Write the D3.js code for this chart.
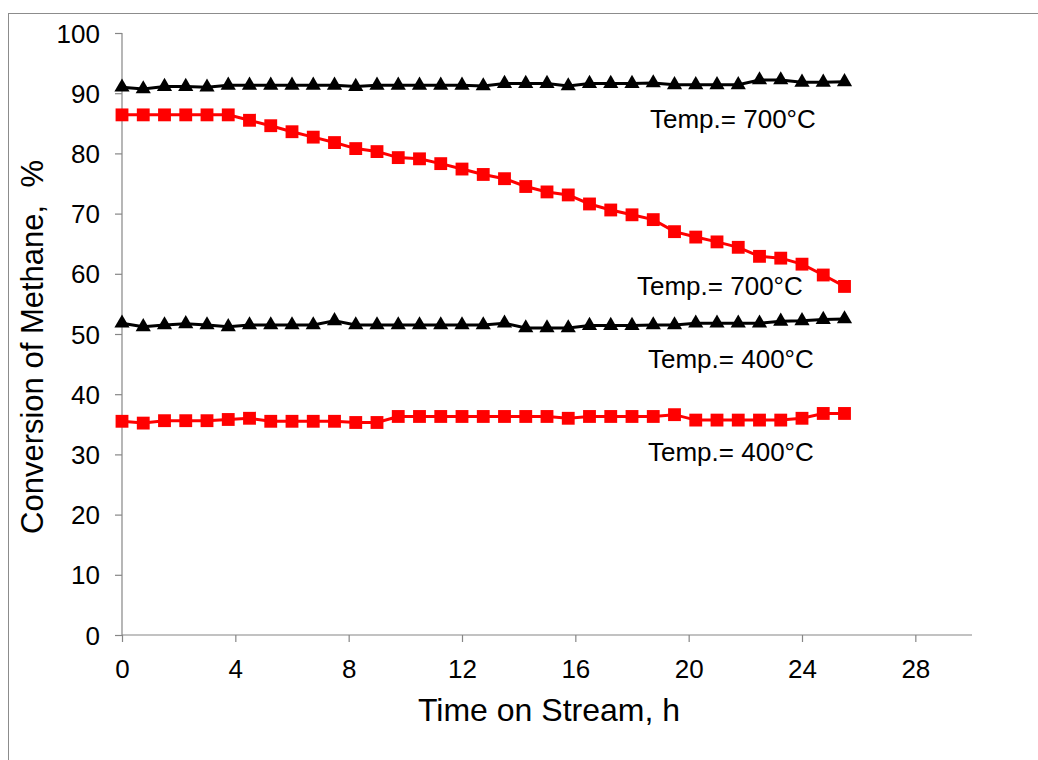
<!DOCTYPE html>
<html>
<head>
<meta charset="utf-8">
<script src="https://cdn.jsdelivr.net/npm/d3@7"></script>
<style>
    body { margin: 0; background: #fff; }
    text { font-family: "Liberation Sans", Arial, sans-serif; fill: #000; }
    .axis path, .axis line { stroke: #868686; stroke-width: 1.2; }
</style>
</head>
<body>
<svg id="chart" width="1038" height="760"></svg>
<script>
// time on stream, h (same sampling for every run)
const hours = [0, 0.75, 1.5, 2.25, 3, 3.75, 4.5, 5.25, 6, 6.75, 7.5, 8.25, 9, 9.75,
    10.5, 11.25, 12, 12.75, 13.5, 14.25, 15, 15.75, 16.5, 17.25, 18, 18.75, 19.5,
    20.25, 21, 21.75, 22.5, 23.25, 24, 24.75, 25.5];

// methane conversion, %
const black700 = [91.0, 90.7, 91.1, 91.1, 91.0, 91.3, 91.3, 91.3, 91.3, 91.3, 91.3, 91.1,
    91.3, 91.3, 91.3, 91.3, 91.3, 91.2, 91.6, 91.6, 91.6, 91.2, 91.6, 91.6, 91.6, 91.7,
    91.4, 91.4, 91.4, 91.4, 92.2, 92.2, 91.8, 91.8, 91.9];
const red700 = [86.4, 86.4, 86.4, 86.4, 86.4, 86.4, 85.5, 84.6, 83.6, 82.7, 81.8, 80.8,
    80.3, 79.3, 79.1, 78.3, 77.4, 76.5, 75.8, 74.5, 73.6, 73.1, 71.6, 70.6, 69.8, 69.0,
    67.0, 66.1, 65.3, 64.4, 62.9, 62.6, 61.6, 59.8, 57.9];
const black400 = [51.8, 51.2, 51.5, 51.7, 51.5, 51.2, 51.5, 51.5, 51.5, 51.5, 52.2, 51.5,
    51.5, 51.5, 51.5, 51.5, 51.5, 51.5, 51.8, 51.0, 51.0, 51.0, 51.4, 51.4, 51.4, 51.5,
    51.5, 51.8, 51.8, 51.8, 51.8, 52.1, 52.2, 52.4, 52.5];
const red400 = [35.5, 35.2, 35.6, 35.6, 35.6, 35.8, 36.0, 35.5, 35.5, 35.5, 35.5, 35.3,
    35.3, 36.3, 36.3, 36.3, 36.3, 36.3, 36.3, 36.3, 36.3, 36.0, 36.3, 36.3, 36.3, 36.3,
    36.6, 35.7, 35.7, 35.7, 35.7, 35.7, 36.0, 36.8, 36.8];

const xTicks = [0, 4, 8, 12, 16, 20, 24, 28];
const yTicks = [0, 10, 20, 30, 40, 50, 60, 70, 80, 90, 100];

const labelText = ["Temp.= 700°C", "Temp.= 700°C", "Temp.= 400°C", "Temp.= 400°C"];

/** Simple line chart with markers */
class Chart {
    constructor() {
        this.svg = d3.select("svg#chart");
        this.x = d3.scaleLinear().domain([0, 30]).range([122, 972]);
        this.y = d3.scaleLinear().domain([0, 100]).range([635, 33]);
    }

    drawFrame() {
        this.svg.append("rect")
            .attr("x", 8.5).attr("y", 13.5)
            .attr("width", 1040).attr("height", 760)
            .attr("fill", "none")
            .attr("stroke", "#8c8c8c");
    }

    drawAxes() {
        let xAxis = d3.axisBottom(this.x).tickValues(xTicks).tickSize(7).tickSizeOuter(0);
        let yAxis = d3.axisLeft(this.y).tickValues(yTicks).tickSize(7).tickSizeOuter(0);

        let gx = this.svg.append("g").attr("class", "axis")
            .attr("transform", "translate(0," + this.y(0) + ")")
            .call(xAxis);
        gx.selectAll("text").attr("font-size", 26).attr("dy", 0).attr("y", 43);

        let gy = this.svg.append("g").attr("class", "axis")
            .attr("transform", "translate(" + this.x(0) + ",0)")
            .call(yAxis);
        gy.selectAll("text").attr("font-size", 26).attr("x", -22).attr("dy", "0.35em");
        gx.select(".domain").attr("d", "M122,0H972");
        gy.select(".domain").attr("d", "M0,33V635");

        this.svg.append("text")
            .attr("x", 549).attr("y", 721)
            .attr("text-anchor", "middle")
            .attr("font-size", 32)
            .text("Time on Stream, h");

        this.svg.append("text")
            .attr("transform", "translate(43,347) rotate(-90)")
            .attr("text-anchor", "middle")
            .attr("font-size", 31)
            .style("white-space", "pre")
            .text("Conversion of Methane,  %");
    }

    drawSeries(values, color, shape) {
        let x = this.x, y = this.y;
        let pts = hours.map((h, i) => [h, values[i]]);
        let line = d3.line().x(d => x(d[0])).y(d => y(d[1]));

        this.svg.append("path")
            .datum(pts)
            .attr("d", line)
            .attr("fill", "none")
            .attr("stroke", color)
            .attr("stroke-width", 3);

        let sym = shape === "triangle"
            ? d3.symbol().type(d3.symbolTriangle).size(100)
            : d3.symbol().type(d3.symbolSquare).size(165);

        this.svg.append("g").selectAll("path").data(pts).enter()
            .append("path")
            .attr("transform", d => "translate(" + x(d[0]) + "," + y(d[1]) + ")")
            .attr("d", sym)
            .attr("fill", color);
    }

    drawLabels() {
        let pos = [[650, 128], [637, 295], [648, 368], [648, 461]];
        this.svg.selectAll(".lbl").data(labelText).enter()
            .append("text")
            .attr("class", "lbl")
            .attr("x", (d, i) => pos[i][0])
            .attr("y", (d, i) => pos[i][1])
            .attr("font-size", 26)
            .text(d => d);
    }
}

let chart = new Chart();
chart.drawFrame();
chart.drawAxes();
chart.drawSeries(red400, "#ff0000", "square");
chart.drawSeries(black400, "#000000", "triangle");
chart.drawSeries(red700, "#ff0000", "square");
chart.drawSeries(black700, "#000000", "triangle");
chart.drawLabels();
</script>
</body>
</html>
